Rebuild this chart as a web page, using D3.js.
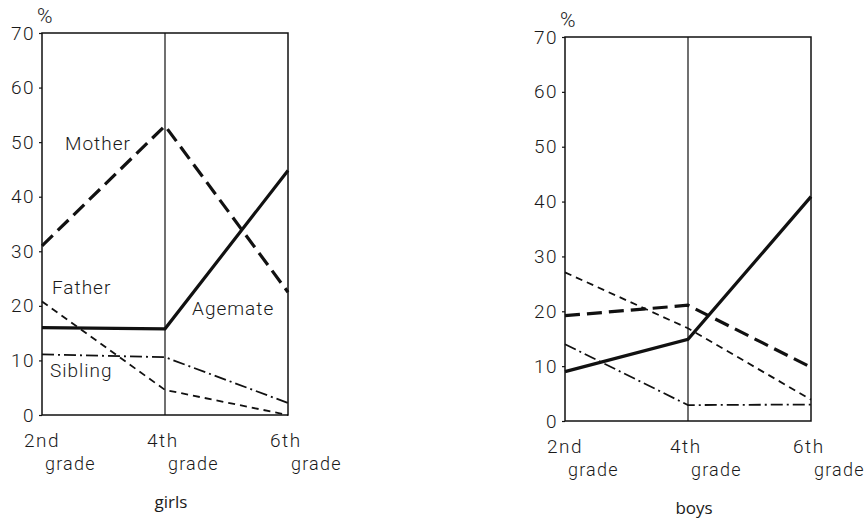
<!DOCTYPE html>
<html>
<head>
<meta charset="utf-8">
<script src="https://cdn.jsdelivr.net/npm/d3@7"></script>
<style>
  body { margin: 0; background: #fff; }
  text { fill: #1a1a1a; }
</style>
</head>
<body>
<div id="chart"></div>
<script>
// grades on the x axis, percentages on y
var grades = ["2nd", "4th", "6th"];
var yTicks = [0, 10, 20, 30, 40, 50, 60, 70];

var girlsMother = [31, 53, 22.5];
var girlsAgemate = [16, 15.8, 44.8];
var girlsFather = [20.8, 4.6, 0];
var girlsSibling = [11.1, 10.6, 2.2];

var boysMother = [19.2, 21.1, 9.8];
var boysAgemate = [9, 14.9, 40.9];
var boysFather = [27.1, 16.9, 3.9];
var boysSibling = [14, 2.9, 3];

var font = "Roboto, Liberation Sans, sans-serif";

var svg = d3.select("#chart")
  .append("svg")
  .attr("width", 865)
  .attr("height", 520);

var styles = {
  Mother: { width: 3.2, dash: "15,7" },
  Agemate: { width: 3.2, dash: null },
  Father: { width: 1.8, dash: "7,5" },
  Sibling: { width: 1.8, dash: "12,4,2,4" }
};

function panel(title, left, right, top, bottom, series, labels) {
  var x = d3.scalePoint().domain(grades).range([left, right]);
  var y = d3.scaleLinear().domain([0, 70]).range([bottom, top]);
  var g = svg.append("g");

  // frame and middle divider
  g.append("rect")
    .attr("x", left).attr("y", top)
    .attr("width", right - left).attr("height", bottom - top)
    .attr("fill", "none").attr("stroke", "#111").attr("stroke-width", 1.5);
  g.append("line")
    .attr("x1", x("4th")).attr("x2", x("4th"))
    .attr("y1", top).attr("y2", bottom)
    .attr("stroke", "#111").attr("stroke-width", 1.2);

  var axis = g.append("g")
    .attr("transform", "translate(" + left + ",0)")
    .call(d3.axisLeft(y).tickValues(yTicks).tickSize(3).tickPadding(4));
  axis.select(".domain").remove();
  axis.selectAll(".tick line").attr("stroke", "#111").attr("stroke-width", 1.2);
  axis.selectAll(".tick text")
    .attr("font-family", font)
    .attr("font-weight", 300)
    .attr("font-size", 19)
    .attr("letter-spacing", 1.5)
    .attr("fill", "#1a1a1a");

  g.append("text")
    .attr("x", left - 5).attr("y", top - 10)
    .attr("font-family", font).attr("font-weight", 300)
    .attr("font-size", 21)
    .text("%");

  grades.forEach(function(gr) {
    g.append("text")
      .attr("x", x(gr) - 18).attr("y", bottom + 32)
      .attr("font-family", font).attr("font-weight", 300)
      .attr("font-size", 19).attr("letter-spacing", 1.5)
      .text(gr);
    g.append("text")
      .attr("x", x(gr) + 3).attr("y", bottom + 55)
      .attr("font-family", font).attr("font-weight", 300)
      .attr("font-size", 18).attr("letter-spacing", 1.2)
      .text("grade");
  });

  var line = d3.line()
    .x(function(d, i) { return x(grades[i]); })
    .y(function(d) { return y(d); });

  Object.keys(series).forEach(function(k) {
    g.append("path")
      .datum(series[k])
      .attr("d", line)
      .attr("fill", "none")
      .attr("stroke", "#111")
      .attr("stroke-width", styles[k].width)
      .attr("stroke-dasharray", styles[k].dash);
  });

  labels.forEach(function(l) {
    g.append("text")
      .attr("x", l[1]).attr("y", y(l[2]))
      .attr("font-family", font).attr("font-weight", 300)
      .attr("font-size", 19).attr("letter-spacing", 1)
      .text(l[0]);
  });

  g.append("text")
    .attr("x", x("4th") + 6).attr("y", bottom + 93)
    .attr("text-anchor", "middle")
    .attr("font-family", "Open Sans, sans-serif")
    .attr("font-size", 17).attr("font-weight", 500)
    .text(title);
}

// label name, x position, data value for baseline
panel("girls", 42, 288, 33, 415,
  { Father: girlsFather, Sibling: girlsSibling, Agemate: girlsAgemate, Mother: girlsMother },
  [["Mother", 65, 48.5], ["Father", 52, 22.2], ["Agemate", 192, 18.3], ["Sibling", 50, 7]]);

panel("boys", 565, 811, 37, 421,
  { Father: boysFather, Sibling: boysSibling, Agemate: boysAgemate, Mother: boysMother },
  []);
</script>
</body>
</html>
